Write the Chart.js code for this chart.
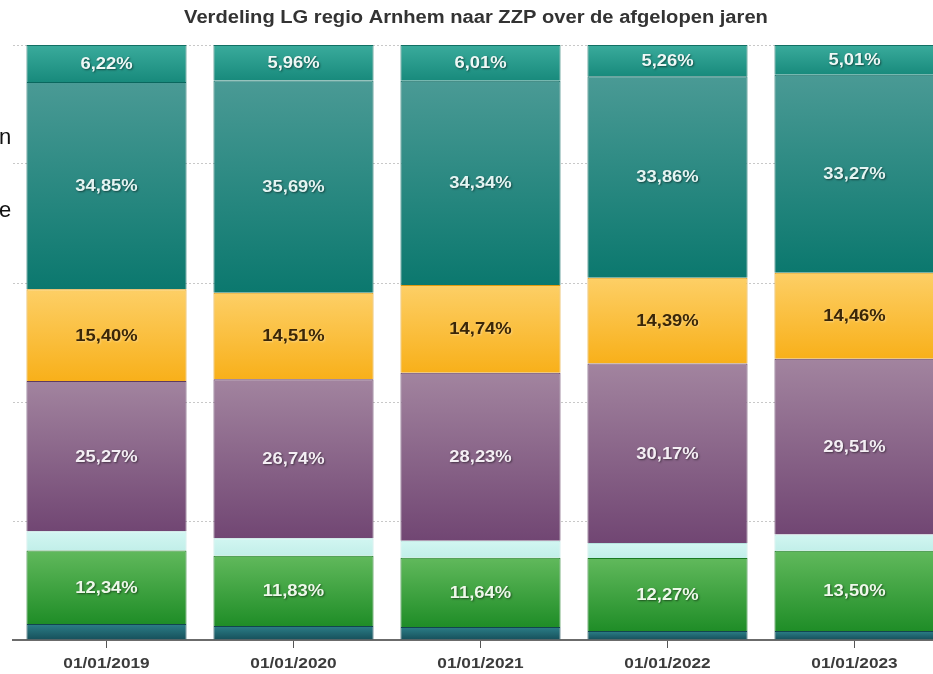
<!DOCTYPE html>
<html>
<head>
<meta charset="utf-8">
<script src="https://cdn.jsdelivr.net/npm/chart.js@4/dist/chart.umd.min.js"></script>
<style>
  html, body { margin: 0; padding: 0; background: #fff; overflow: hidden; }
  #wrap { position: relative; width: 933px; height: 674px; overflow: hidden; }
  #chart { position: absolute; left: 0; top: 0; }
  .side { position: absolute; font-family: "Liberation Sans", Arial, sans-serif; font-size: 22px; color: #111; }
</style>
</head>
<body>
<div id="wrap">
  <canvas id="chart" width="960" height="674"></canvas>
  <div class="side" style="left:-1px; top:124px;">n</div>
  <div class="side" style="left:-1px; top:197px;">e</div>
</div>
<script>
// categories (peildatum)
const labels = ['01/01/2019', '01/01/2020', '01/01/2021', '01/01/2022', '01/01/2023'];

// segments from bottom to top, percentages per year
const bottomTeal = [2.70, 2.35, 2.20, 1.50, 1.50];
const green      = [12.34, 11.83, 11.64, 12.27, 13.50];
const lightCyan  = [3.22, 2.92, 2.84, 2.55, 2.75];
const purple     = [25.27, 26.74, 28.23, 30.17, 29.51];
const yellow     = [15.40, 14.51, 14.74, 14.39, 14.46];
const teal       = [34.85, 35.69, 34.34, 33.86, 33.27];
const topTeal    = [6.22, 5.96, 6.01, 5.26, 5.01];

const yTicks = [0, 20, 40, 60, 80, 100];
const titleText = 'Verdeling LG regio Arnhem naar ZZP over de afgelopen jaren';

const FONT = '"Liberation Sans", Arial, sans-serif';
const STRETCH = 1.15; // the source screenshot is a bit wider than tall

const series = [
  { name: 'A', data: bottomTeal, c1: '#2c7f88', c2: '#164f5a', border: '#124550', label: false },
  { name: 'B', data: green,      c1: '#61b95c', c2: '#1f8d27', border: '#1a7a22', label: true, text: '#eef8ea' },
  { name: 'C', data: lightCyan,  c1: '#d2f6f2', c2: '#c2efe9', border: '#b5e4de', label: false },
  { name: 'D', data: purple,     c1: '#a2849f', c2: '#714673', border: '#5e3a60', label: true, text: '#f4eef4' },
  { name: 'E', data: yellow,     c1: '#fdcf66', c2: '#f8b01a', border: '#e09a10', label: true, text: '#3a2608' },
  { name: 'F', data: teal,       c1: '#4a9a95', c2: '#0b786e', border: '#0a675e', label: true, text: '#e4f4f2' },
  { name: 'G', data: topTeal,    c1: '#3aab9c', c2: '#188a7c', border: '#127064', label: true, text: '#eef8f6' }
];

function segGradient(ctx, si) {
  const chart = ctx.chart;
  const s = series[si];
  const y = chart.scales && chart.scales.y;
  if (!y || ctx.dataIndex === undefined) return s.c2;
  let low = 0;
  for (let k = 0; k < si; k++) low += series[k].data[ctx.dataIndex];
  const high = low + s.data[ctx.dataIndex];
  const y0 = y.getPixelForValue(high);
  const y1 = y.getPixelForValue(low);
  if (!isFinite(y0) || !isFinite(y1) || y0 === y1) return s.c2;
  const g = chart.ctx.createLinearGradient(0, y0, 0, y1);
  g.addColorStop(0, s.c1);
  g.addColorStop(1, s.c2);
  return g;
}

// text drawn a little wider than the font, like the screenshot
function wideText(c, txt, x, y) {
  c.save();
  c.translate(x, y);
  c.scale(STRETCH, 1);
  c.fillText(txt, 0, 0);
  c.restore();
}

const textLayer = {
  id: 'textLayer',
  afterDraw(chart) {
    const c = chart.ctx;
    c.save();
    c.textAlign = 'center';
    c.textBaseline = 'middle';

    // title
    c.font = 'bold 17.5px ' + FONT;
    c.fillStyle = '#333';
    wideText(c, titleText, 476, 18);

    // category labels
    const x = chart.scales.x;
    c.font = 'bold 15px ' + FONT;
    c.fillStyle = '#3c3c3c';
    labels.forEach((l, i) => wideText(c, l, x.getPixelForValue(i), 664));

    // value labels
    c.font = 'bold 16px ' + FONT;
    series.forEach((s, si) => {
      if (!s.label) return;
      chart.getDatasetMeta(si).data.forEach((bar, i) => {
        const mid = (bar.y + bar.base) / 2;
        const txt = s.data[i].toFixed(2).replace('.', ',') + '%';
        c.shadowColor = si === 4 ? 'rgba(255,255,255,0.35)' : 'rgba(0,0,0,0.5)';
        c.shadowBlur = 2;
        c.shadowOffsetX = 1;
        c.shadowOffsetY = 1;
        c.fillStyle = s.text;
        wideText(c, txt, bar.x, mid + 1);
      });
    });
    c.restore();
  }
};

const chart = new Chart(document.getElementById('chart'), {
  type: 'bar',
  data: {
    labels: labels,
    datasets: series.map((s, si) => ({
      label: s.name,
      data: s.data,
      backgroundColor: (ctx) => segGradient(ctx, si),
      borderColor: s.border,
      borderWidth: 1,
      categoryPercentage: 1,
      barPercentage: 0.856
    }))
  },
  options: {
    responsive: false,
    animation: false,
    devicePixelRatio: 1,
    layout: { padding: { left: 13, right: 12, top: 45, bottom: 26 } },
    plugins: {
      legend: { display: false },
      tooltip: { enabled: false },
      title: { display: false }
    },
    scales: {
      x: {
        stacked: true,
        border: { display: true, color: '#6b6b6b', width: 2 },
        grid: { display: true, offset: false, drawOnChartArea: false, drawTicks: true, tickLength: 8, color: '#555', lineWidth: 1 },
        ticks: { display: false }
      },
      y: {
        stacked: true,
        min: 0,
        max: 100,
        afterBuildTicks: (axis) => { axis.ticks = yTicks.map(v => ({ value: v })); },
        border: { display: false, dash: [2, 2] },
        grid: { color: '#c8c8c8', drawTicks: false, lineWidth: 1 },
        ticks: { display: false }
      }
    }
  },
  plugins: [textLayer]
});
// redraw once scales have their final pixel positions so the gradients resolve
chart.update();
</script>
</body>
</html>
